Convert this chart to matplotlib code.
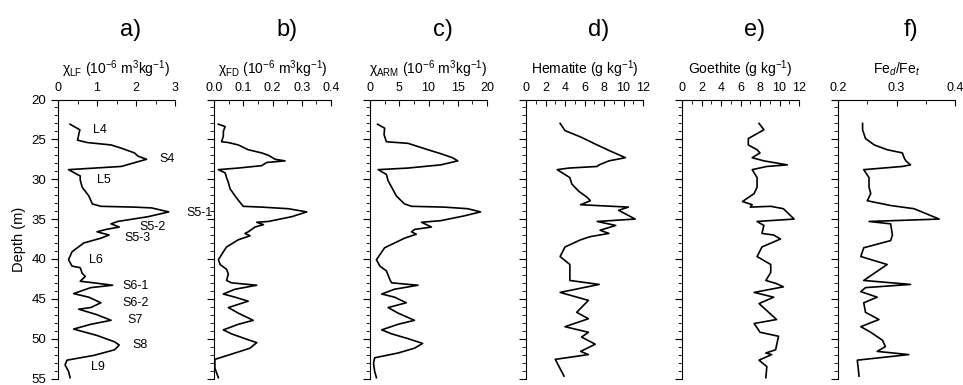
import numpy as np
import matplotlib
matplotlib.use('Agg')
import matplotlib.pyplot as plt
from matplotlib.ticker import MultipleLocator

plt.rcParams['font.family'] = ['Liberation Sans', 'DejaVu Sans']
plt.rcParams['mathtext.fontset'] = 'custom'
plt.rcParams['mathtext.rm'] = 'Liberation Sans'
plt.rcParams['mathtext.it'] = 'Liberation Sans:italic'

# a) chi_LF
depth_lf = [23.1, 23.8, 25.1, 25.4, 25.7, 26.1, 26.7, 27.1, 27.5, 28.4, 28.8, 29.6, 30.1, 31.0,
            32.1, 33.1, 33.4, 33.5, 33.6, 34.1, 34.7, 35.3, 35.6, 36.0, 36.3, 36.6, 37.0, 37.4,
            38.0, 39.1, 40.1, 40.9, 41.1, 41.8, 42.2, 42.8, 43.0, 43.3, 43.6, 44.35, 44.8, 45.5,
            46.1, 46.3, 47.0, 47.7, 48.2, 48.8, 49.6, 50.4, 50.8, 51.4, 52.1, 52.7, 53.3, 54.1, 54.9]
chi_lf = [0.31, 0.56, 0.5, 0.75, 1.36, 1.62, 1.96, 2.05, 2.27, 1.62, 0.27, 0.57, 0.57, 0.62,
          0.79, 0.88, 1.1, 1.96, 2.4, 2.84, 2.31, 1.53, 1.36, 1.57, 1.23, 1.0, 1.31, 1.1,
          0.66, 0.36, 0.27, 0.36, 0.57, 0.62, 0.7, 0.57, 0.92, 1.4, 0.84, 0.4, 0.79, 1.1,
          0.84, 0.53, 1.0, 1.36, 0.84, 0.4, 1.0, 1.45, 1.57, 1.45, 0.92, 0.23, 0.18, 0.27, 0.31]

# b) chi_FD
depth_fd = [23.1, 23.4, 24.0, 24.6, 25.3, 25.4, 25.7, 26.3, 26.7, 27.0, 27.5, 27.7, 27.9, 28.3,
            28.6, 28.8, 29.2, 29.8, 30.4, 31.2, 32.1, 32.9, 33.4, 33.5, 33.7, 34.1, 34.7, 35.3,
            35.4, 35.7, 36.0, 36.6, 36.8, 37.1, 37.6, 38.5, 39.1, 40.1, 40.7, 41.3, 41.9, 42.7,
            43.0, 43.3, 43.8, 44.4, 44.8, 45.3, 46.1, 46.8, 47.7, 48.2, 48.9, 49.4, 50.0, 50.5,
            51.2, 51.8, 52.6, 53.7, 54.3, 54.9]
chi_fd = [0.015, 0.038, 0.032, 0.032, 0.026, 0.049, 0.083, 0.117, 0.163, 0.186, 0.209, 0.243,
          0.18, 0.163, 0.083, 0.015, 0.038, 0.043, 0.049, 0.055, 0.072, 0.089, 0.1, 0.163,
          0.254, 0.317, 0.266, 0.186, 0.146, 0.169, 0.14, 0.117, 0.106, 0.123, 0.083, 0.043,
          0.032, 0.015, 0.021, 0.043, 0.049, 0.043, 0.06, 0.146, 0.072, 0.032, 0.072, 0.117,
          0.049, 0.083, 0.134, 0.083, 0.032, 0.06, 0.106, 0.146, 0.123, 0.072, 0.003, 0.003,
          0.009, 0.015]

# c) chi_ARM
depth_arm = [23.1, 23.6, 24.4, 25.3, 25.5, 26.3, 26.8, 27.3, 27.7, 28.2, 28.6, 28.8, 29.4, 30.2,
             31.0, 32.1, 33.1, 33.4, 33.5, 33.7, 34.1, 34.6, 35.2, 35.4, 36.0, 36.3, 36.6, 36.9,
             37.4, 38.6, 40.1, 40.9, 41.5, 42.6, 43.0, 43.3, 43.8, 44.4, 44.8, 45.5, 46.1, 46.8,
             47.7, 48.2, 48.9, 49.4, 50.0, 50.6, 51.2, 51.8, 52.4, 53.1, 54.1, 54.9]
chi_arm = [1.3, 2.5, 2.4, 2.8, 6.5, 9.9, 12.1, 14.1, 15.0, 12.1, 6.5, 1.4, 2.8, 3.1,
           3.7, 4.5, 5.9, 7.1, 12.7, 16.7, 18.9, 16.1, 12.1, 8.8, 10.5, 7.6, 7.1, 7.9,
           5.9, 2.5, 1.1, 1.7, 2.8, 3.4, 3.7, 8.2, 4.2, 2.0, 4.2, 6.2, 3.1, 4.8,
           7.6, 4.8, 2.0, 3.7, 6.5, 9.0, 7.6, 4.8, 0.8, 0.6, 0.8, 1.1]

# d) hematite
depth_hem = [23.0, 23.9, 24.7, 25.7, 26.5, 27.3, 27.7, 28.2, 28.4, 28.6, 28.8, 29.8, 30.6, 31.5,
             32.3, 32.7, 33.2, 33.5, 33.9, 35.0, 35.3, 35.8, 36.4, 36.8, 37.2, 37.6, 38.5, 39.7,
             40.7, 42.7, 43.2, 44.2, 45.2, 46.7, 47.5, 48.5, 49.2, 49.8, 50.7, 51.6, 52.0, 52.6, 54.7]
hematite = [3.5, 4.0, 5.6, 7.3, 8.7, 10.2, 8.5, 7.5, 7.3, 4.4, 3.2, 4.5, 4.7, 5.4,
            6.3, 6.6, 5.6, 10.5, 9.5, 11.2, 7.3, 9.2, 7.6, 8.5, 6.6, 5.6, 4.0, 3.5,
            4.5, 4.5, 7.5, 3.5, 6.4, 5.2, 6.4, 4.0, 6.4, 5.7, 7.1, 5.6, 6.4, 3.0, 3.9]

# e) goethite
depth_goe = [23.0, 23.8, 24.9, 25.7, 26.3, 26.7, 27.3, 27.7, 28.2, 28.4, 28.8, 29.8, 31.0, 31.8,
             32.8, 33.2, 33.5, 33.4, 33.7, 35.0, 35.3, 35.8, 36.8, 37.0, 37.5, 38.5, 39.7, 40.7,
             41.7, 42.7, 43.1, 43.5, 44.2, 44.8, 45.6, 47.6, 48.1, 49.2, 49.7, 51.4, 51.8, 52.0,
             52.7, 53.5, 54.9]
goethite = [7.9, 8.4, 6.8, 6.8, 7.7, 8.0, 7.2, 8.4, 10.8, 8.7, 7.2, 7.7, 7.7, 7.4,
            6.2, 7.2, 7.0, 9.1, 10.4, 11.5, 7.7, 8.4, 8.2, 9.4, 10.1, 8.2, 7.7, 9.1,
            9.1, 8.6, 9.7, 10.4, 7.4, 9.4, 7.9, 9.7, 7.4, 8.0, 9.9, 9.6, 8.6, 9.2,
            7.9, 8.7, 8.6]

# f) Fed/Fet
depth_fe = [23.0, 23.8, 24.9, 25.7, 26.3, 26.7, 27.3, 27.7, 28.2, 28.4, 28.8, 29.8, 31.0, 31.8,
            32.7, 33.3, 33.7, 35.0, 35.3, 35.6, 37.0, 37.7, 38.6, 39.7, 40.7, 42.7, 43.2, 43.6,
            44.1, 44.8, 45.5, 46.7, 47.6, 48.5, 49.2, 50.2, 51.0, 51.6, 52.0, 52.7, 54.7]
fe_ratio = [0.242, 0.242, 0.247, 0.262, 0.284, 0.310, 0.313, 0.316, 0.324, 0.310, 0.244, 0.253,
            0.253, 0.256, 0.250, 0.290, 0.330, 0.373, 0.253, 0.290, 0.293, 0.290, 0.244, 0.239,
            0.284, 0.244, 0.324, 0.247, 0.239, 0.267, 0.244, 0.247, 0.270, 0.239, 0.256, 0.276,
            0.281, 0.267, 0.321, 0.233, 0.236]

units = 'm$^3$kg$^{-1}$'
panels = [
    ('a)', 'χ$_{\\rm LF}$ (10$^{-6}$ ' + units + ')', depth_lf, chi_lf, (0, 3), 1, 0.5),
    ('b)', 'χ$_{\\rm FD}$ (10$^{-6}$ ' + units + ')', depth_fd, chi_fd, (0, 0.4), 0.1, 0.05),
    ('c)', 'χ$_{\\rm ARM}$ (10$^{-6}$ ' + units + ')', depth_arm, chi_arm, (0, 20), 5, 2.5),
    ('d)', 'Hematite (g kg$^{-1}$)', depth_hem, hematite, (0, 12), 2, 1),
    ('e)', 'Goethite (g kg$^{-1}$)', depth_goe, goethite, (0, 12), 2, 1),
    ('f)', 'Fe$_d$/Fe$_t$', depth_fe, fe_ratio, (0.2, 0.4), 0.1, 0.05),
]

# unit labels for panel a
unit_names = ['L4', 'S4', 'L5', 'S5-1', 'S5-2', 'S5-3', 'L6', 'S6-1', 'S6-2', 'S7', 'S8', 'L9']
unit_x = [0.9, 2.6, 1.0, 3.3, 2.1, 1.7, 0.79, 1.66, 1.66, 1.79, 1.92, 0.84]
unit_d = [23.8, 27.5, 30.1, 34.2, 36.0, 37.4, 40.1, 43.4, 45.5, 47.7, 50.8, 53.5]

W, H = 963, 385
fig = plt.figure(figsize=(W / 100, H / 100), dpi=100)

lefts = [58, 214, 370, 526, 682, 838]
top, bottom = 99.5, 378.5
for i, (tag, xlab, dep, val, xlim, major, minor) in enumerate(panels):
    ax = fig.add_axes([lefts[i] / W, (H - bottom) / H, 117 / W, (bottom - top) / H])
    ax.plot(val, dep, color='black', lw=1.2)
    ax.set_xlim(*xlim)
    ax.set_ylim(55, 20)
    ax.spines['right'].set_visible(False)
    ax.spines['bottom'].set_visible(False)
    ax.xaxis.tick_top()
    ax.xaxis.set_label_position('top')
    ax.xaxis.set_major_locator(MultipleLocator(major))
    ax.xaxis.set_minor_locator(MultipleLocator(minor))
    ax.yaxis.set_major_locator(MultipleLocator(5))
    ax.yaxis.set_minor_locator(MultipleLocator(1))
    ax.tick_params(axis='x', which='both', direction='in', labelsize=9, pad=4)
    ax.tick_params(axis='x', which='major', length=4)
    ax.tick_params(axis='x', which='minor', length=3)
    ax.tick_params(axis='y', which='major', direction='out', length=5, labelsize=9.5)
    ax.tick_params(axis='y', which='minor', direction='out', length=3)
    if xlim[1] < 1:
        ax.xaxis.set_major_formatter(plt.FuncFormatter(lambda v, p: f'{v:.1f}'))
    if i > 0:
        ax.tick_params(axis='y', labelleft=False)
    else:
        ax.set_ylabel('Depth (m)', fontsize=10.5, labelpad=4)
    ax.set_xlabel(xlab, fontsize=10, labelpad=6)
    ax.text(0.62, 1.25, tag, transform=ax.transAxes, ha='center', va='center', fontsize=17)
    if i == 0:
        for name, x, d in zip(unit_names, unit_x, unit_d):
            ax.text(x, d, name, fontsize=9, ha='left', va='center', clip_on=False)

fig.savefig('out.png', dpi=100)
